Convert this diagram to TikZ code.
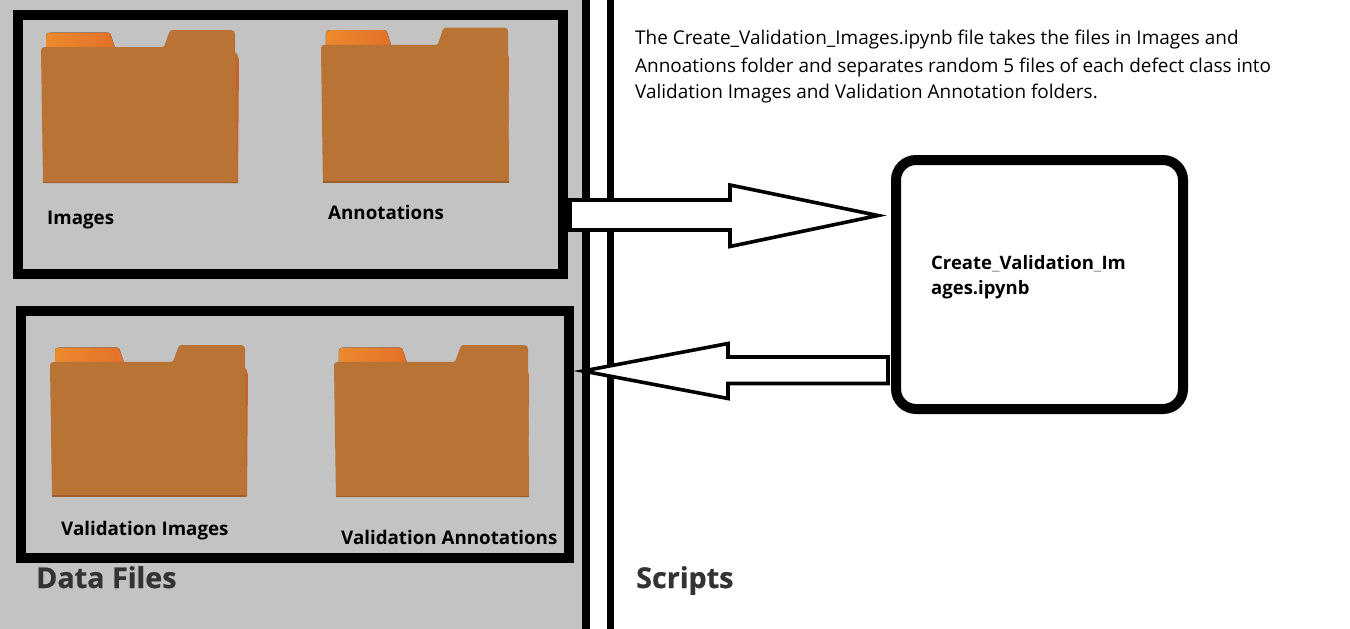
\documentclass[tikz,border=0pt]{standalone}
\usepackage{fontspec}
\setmainfont{Open Sans}
\newfontfamily\headfont[BoldFeatures={FakeBold=0.6}]{Open Sans}
\usetikzlibrary{calc}
\definecolor{panelgray}{HTML}{C3C3C3}
\definecolor{folderbody}{HTML}{B87335}
\definecolor{folderedge}{HTML}{9A5F2E}
\definecolor{folderside}{HTML}{C4652D}
\definecolor{tabA}{HTML}{EB8A2C}
\definecolor{tabB}{HTML}{E3702A}
\definecolor{headtext}{HTML}{333333}
\tikzset{
  x=1pt,y=-1pt,
  framebox/.style={draw=black,line width=10pt,fill=panelgray,outer sep=0pt,inner sep=0pt,anchor=north west},
  scriptbox/.style={draw=black,line width=10pt,fill=white,rounded corners=20pt,outer sep=0pt,inner sep=0pt,anchor=north west},
  blockarrow/.style={draw=black,line width=3.6pt,fill=white,miter limit=20},
  divider/.style={black,line width=7.5pt},
  lbl/.style={anchor=base west,inner sep=0pt,font=\fontsize{18.75}{23}\selectfont\bfseries},
  boxlbl/.style={anchor=base west,inner sep=0pt,font=\fontsize{18.5}{23}\selectfont\bfseries},
  head/.style={anchor=base west,inner sep=0pt,text=headtext,font=\headfont\fontsize{28.7}{32}\selectfont\bfseries},
  bodytext/.style={anchor=base west,inner sep=0pt,font=\fontsize{18.95}{24}\selectfont},
}
% #1 left, #2 top, #3 width, #4 height, #5 body right at the tab, #6 body right at the foot (198 units wide)
\newcommand{\folderpic}[6]{%
\begin{scope}[shift={(#1,#2)},xscale=#3/198,yscale=#4/153]
  \fill[folderside] (190,20) -- (196,24) -- (198,30) -- (197,153) -- (190,153) -- cycle;
  \fill[left color=tabA,right color=tabB] (5,17) -- (5,6) .. controls (5,3.5) and (7,2.7) .. (9,2.7) -- (67,2.7) .. controls (69,2.7) and (69.5,4) .. (70,6) -- (74,18) -- cycle;
  \fill[folderbody] (0,21) .. controls (0,18) and (1,17) .. (4,17) -- (121,17) .. controls (123,17) and (123.5,16) .. (124,14) -- (128,3) .. controls (129,0.5) and (130,0) .. (132,0) -- (#5-4,0) .. controls (#5-1,0) and (#5,2) .. (#5,4) -- (#6,150) -- (#6,153) -- (2,153) -- cycle;
  \fill[folderedge] (2,151.5) -- (#6,151.5) -- (#6,153) -- (2,153) -- cycle;
\end{scope}}
\begin{document}
\begin{tikzpicture}
\useasboundingbox (0,0) rectangle (1350,629);
\fill[white] (0,0) rectangle (1350,629);
\fill[panelgray] (0,0) rectangle (582,629);
\coordinate (d1t) at (585.75,0); \coordinate (d1b) at (585.75,629);
\coordinate (d2t) at (610.2,0); \coordinate (d2b) at (610.2,629);
\draw[divider] (d1t) -- (d1b);
\draw[divider,line width=6.8pt] (d2t) -- (d2b);

\node[framebox,minimum width=545pt,minimum height=259pt] (srcframe) at (18,15) {};
\node[framebox,minimum width=548pt,minimum height=247pt] (valframe) at (21,311) {};
\node[scriptbox,minimum width=287pt,minimum height=249pt] (script) at (896,160) {};

\folderpic{41}{30}{198}{153}{194}{196}
\folderpic{321}{27.5}{188}{155.5}{197}{198}
\folderpic{50}{345}{198}{151.5}{195}{196}
\folderpic{334}{345}{195}{152}{197}{198}

\node[lbl] (limages) at (47,224) {Images};
\node[lbl] (lannot) at (328,219) {Annotations};
\node[lbl] (lvimages) at (61,535) {Validation Images};
\node[lbl] (lvannot) at (341,544) {Validation Annotations};
\node[head] (ldata) at (36,588) {Data Files};
\node[head] (lscripts) at (636,588) {Scripts};
\node[boxlbl] (lscript1) at (931,269) {Create\textcolor{gray!70}{\_}Validation\textcolor{gray!70}{\_}Im};
\node[boxlbl] (lscript2) at (931,294) {ages.ipynb};
\node[bodytext] (desc1) at (635,44) {The Create\_Validation\_Images.ipynb file takes the files in Images and};
\node[bodytext] (desc2) at (635,72) {Annoations folder and separates random 5 files of each defect class into};
\node[bodytext] (desc3) at (635,98) {Validation Images and Validation Annotation folders.};

% block arrows, from frame to script and back
\coordinate (a1tail) at (570,215);
\coordinate (a1tip) at (878,215.5);
\draw[blockarrow] (a1tail |- 0,200) -- (730,200) -- (730,185) -- (a1tip) -- (730,246.5) -- (730,230) -- (a1tail |- 0,230) -- cycle;
\coordinate (a2tail) at (888,370.5);
\coordinate (a2tip) at (583,371);
\draw[blockarrow] (a2tail |- 0,357) -- (728,357) -- (728,343.5) -- (a2tip) -- (728,398.5) -- (728,383.5) -- (a2tail |- 0,383.5) -- cycle;
\end{tikzpicture}
\end{document}
